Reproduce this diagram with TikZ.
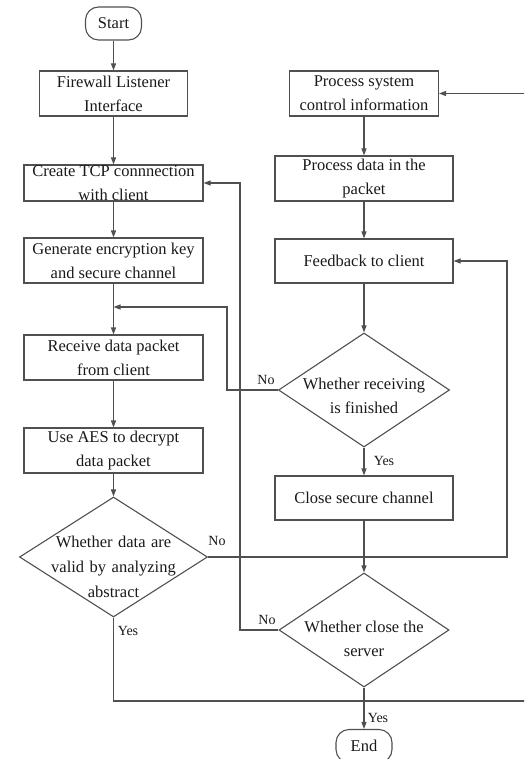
\documentclass[tikz,border=0pt]{standalone}
\usepackage{fontspec}
\setmainfont{Liberation Serif}
\usetikzlibrary{arrows.meta,shapes.geometric}
\definecolor{linec}{RGB}{80,80,80}
\definecolor{textc}{RGB}{25,25,25}
\begin{document}
\begin{tikzpicture}[x=1pt,y=-1pt,
  every node/.style={font=\fontsize{16.5}{24}\selectfont, text=textc},
  box/.style={draw=linec, line width=1.1pt, rectangle, inner sep=0pt,
    align=center, minimum width=#1, minimum height=45pt},
  box/.default=178pt,
  terminal/.style={draw=linec, line width=1.1pt, rectangle, rounded corners=13pt,
    inner sep=0pt, minimum width=56pt, minimum height=33pt},
  decision/.style={draw=linec, line width=1.1pt, diamond, inner sep=0pt},
  dtext/.style={align=center, inner sep=0pt},
  lbl/.style={font=\fontsize{14}{16}\selectfont, inner sep=0pt},
  flow/.style={draw=linec, line width=1.1pt, -{Triangle[length=7pt,width=5pt]}},
  plain/.style={draw=linec, line width=1.1pt}
]
\path[use as bounding box, clip] (0,0) rectangle (524,759);

% left column
\node[terminal] (start) at (113.5,23.5) {Start};
\node[box=148pt] (fw) at (113.5,93.5) {Firewall Listener\\Interface};
\node[box=179pt, minimum height=36pt] (tcp) at (113.5,183) {Create TCP connnection\\with client};
\node[box=179pt] (gen) at (113.5,260.5) {Generate encryption key\\and secure channel};
\node[box=179pt] (recv) at (113.5,357.5) {Receive data packet\\from client};
\node[box=179pt] (aes) at (113.5,450.5) {Use AES to decrypt\\data packet};
\node[decision, minimum width=188pt, minimum height=120pt] (valid) at (113.5,557) {};
\node[dtext, text width=170pt, font=\fontsize{16.5}{25}\selectfont] (validtxt) at (113.5,567)
  {Whether data are\\valid by analyzing\\abstract};

% right column
\node[box=149pt] (psc) at (364,93.5) {Process system\\control information};
\node[box] (pdata) at (364,178.5) {Process data in the\\packet};
\node[box, minimum height=44pt] (fb) at (364,261) {Feedback to client};
\node[decision, minimum width=171pt, minimum height=114pt] (rdone) at (364,390) {};
\node[dtext] (rdonetxt) at (364,396) {Whether receiving\\is finished};
\node[box, minimum height=44pt] (close) at (364,498) {Close secure channel};
\node[decision, minimum width=170pt, minimum height=114pt] (srv) at (364,630) {};
\node[dtext] (srvtxt) at (364,639) {Whether close the\\server};
\node[terminal] (end) at (364,746) {End};

% bend points of the return lines
\coordinate (j1) at (113.5,307);
\coordinate (k1) at (227,307);
\coordinate (k2) at (507,557);
\coordinate (k3) at (535,701);
\coordinate (k4) at (240,630);

% main flow
\draw[flow] (start) -- (fw);
\draw[flow] (fw) -- (tcp);
\draw[flow] (tcp) -- (gen);
\draw[flow] (gen) -- (recv);
\draw[flow] (recv) -- (aes);
\draw[flow] (aes) -- (valid);
\draw[flow] (psc) -- (pdata);
\draw[flow] (pdata) -- (fb);
\draw[flow] (fb) -- (rdone);
\draw[flow] (rdone) -- (close);
\draw[flow] (close) -- (srv);
\draw[flow] (srv) -- (end);

% branches
\draw[flow] (rdone.west) -| (k1) -- (j1);
\draw[flow] (valid.east) -- (k2) |- (fb.east);
\draw[flow] (valid.south) |- (k3) |- (psc.east);
\draw[flow] (srv.west) -- (k4) |- (tcp.east);

% branch labels
\node[lbl] (no1) at (266,380) {No};
\node[lbl] (no2) at (217,541) {No};
\node[lbl] (no3) at (267,620) {No};
\node[lbl] (yes1) at (128,631) {Yes};
\node[lbl] (yes2) at (384,461) {Yes};
\node[lbl] (yes3) at (378,718) {Yes};
\end{tikzpicture}
\end{document}
